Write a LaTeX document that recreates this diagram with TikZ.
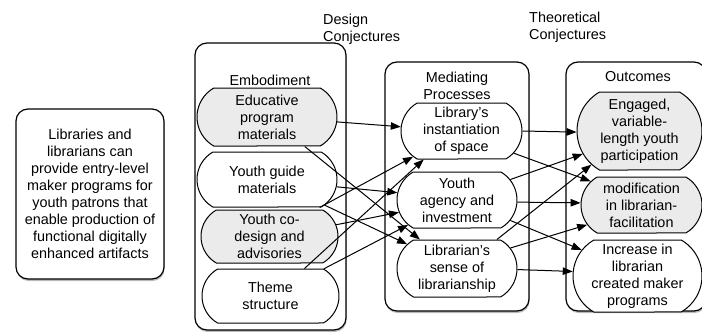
\documentclass[tikz,border=0pt]{standalone}
\usepackage{fontspec}
\setmainfont{Liberation Sans}
\usetikzlibrary{arrows.meta,shapes.misc,shadows}
\begin{document}
\begin{tikzpicture}[x=1pt,y=-1pt,
  every node/.style={font=\fontsize{14.4}{17}\selectfont, align=center, inner sep=0pt},
  box/.style={draw, line width=1pt, rounded rectangle, rounded rectangle arc length=120, fill=white},
  graybox/.style={box, fill=black!8},
  frame/.style={draw, line width=1.2pt, rectangle, rounded corners=12pt, fill=white,
    drop shadow={shadow xshift=0.6pt, shadow yshift=-2pt, opacity=0.45, fill=black!60}},
  link/.style={line width=1pt, -{Triangle[length=10pt,width=7.5pt]}},
]
\useasboundingbox (0,0) rectangle (702,332);

% frames
\node[frame, minimum width=148pt, minimum height=170pt] (hyp) at (90,194)
  {Libraries and\\librarians can\\provide entry-level\\maker programs for\\youth patrons that\\enable production of\\functional digitally\\enhanced artifacts};
\node[frame, minimum width=151pt, minimum height=287pt] (emb) at (270.5,186.5) {};
\node[frame, minimum width=144pt, minimum height=249pt] (med) at (457,186.5) {};
\node[frame, minimum width=140pt, minimum height=249pt] (out) at (636,186.5) {};

% headings
\node (embt) at (270,80) {Embodiment};
\node (medt) at (457,86) {Mediating\\Processes};
\node (outt) at (638,77) {Outcomes};
\node[anchor=west, align=left] (dc) at (323,29) {Design\\Conjectures};
\node[anchor=west, align=left] (tc) at (529,27.5) {Theoretical\\Conjectures};

% embodiment
\node[graybox, minimum width=140pt, minimum height=58pt] (educ) at (267,117) {Educative\\program\\materials};
\node[box, minimum width=140pt, minimum height=55pt] (yg) at (267,179.5) {Youth guide\\materials};
\node[graybox, minimum width=137pt, minimum height=53pt] (cod) at (269.5,236.5) {Youth co-\\design and\\advisories};
\node[box, minimum width=137pt, minimum height=54pt] (th) at (270.5,296) {Theme\\structure};

% mediating
\node[box, minimum width=121pt, minimum height=56pt] (lib) at (461.5,131) {Library’s\\instantiation\\of space};
\node[box, minimum width=120pt, minimum height=56pt] (ya) at (457,200) {Youth\\agency and\\investment};
\node[box, minimum width=120pt, minimum height=57pt] (ls) at (457,268.5) {Librarian’s\\sense of\\librarianship};

% outcomes
\node[graybox, minimum width=125pt, minimum height=78pt] (eng) at (639.5,131) {Engaged,\\variable-\\length youth\\participation};
\node[graybox, minimum width=121pt, minimum height=56pt] (mod) at (641.5,205) {modification\\in librarian-\\facilitation};
\node[box, minimum width=129pt, minimum height=72pt] (inc) at (637.5,276) {Increase in\\librarian\\created maker\\programs};

% design conjectures
\draw[link] (educ.-4.9) -- (lib.176.3);
\draw[link] (educ.-38.7) -- (ls.142);
\draw[link] (yg.-6.9) -- (ya.173.6);
\draw[link] (yg.-28.3) -- (lib.208.6);
\draw[link] (yg.-24.6) -- (ls.154.2);
\draw[link] (cod.10.3) -- (ya.192.7);
\draw[link] (th.39.1) -- (lib.217);
\draw[link] (th.27.2) -- (ya.207);

% theoretical conjectures
\draw[link] (lib.-0.9) -- (eng.181);
\draw[link] (lib.-23.4) -- (mod.155.2);
\draw[link] (ya.21.4) -- (eng.202.3);
\draw[link] (ya.-2.8) -- (mod.178.2);
\draw[link] (ya.-21) -- (inc.155);
\draw[link] (ls.36.9) -- (eng.215.7);
\draw[link] (ls.21) -- (mod.200);
\draw[link] (ls.-1.4) -- (inc.176.7);
\end{tikzpicture}
\end{document}
